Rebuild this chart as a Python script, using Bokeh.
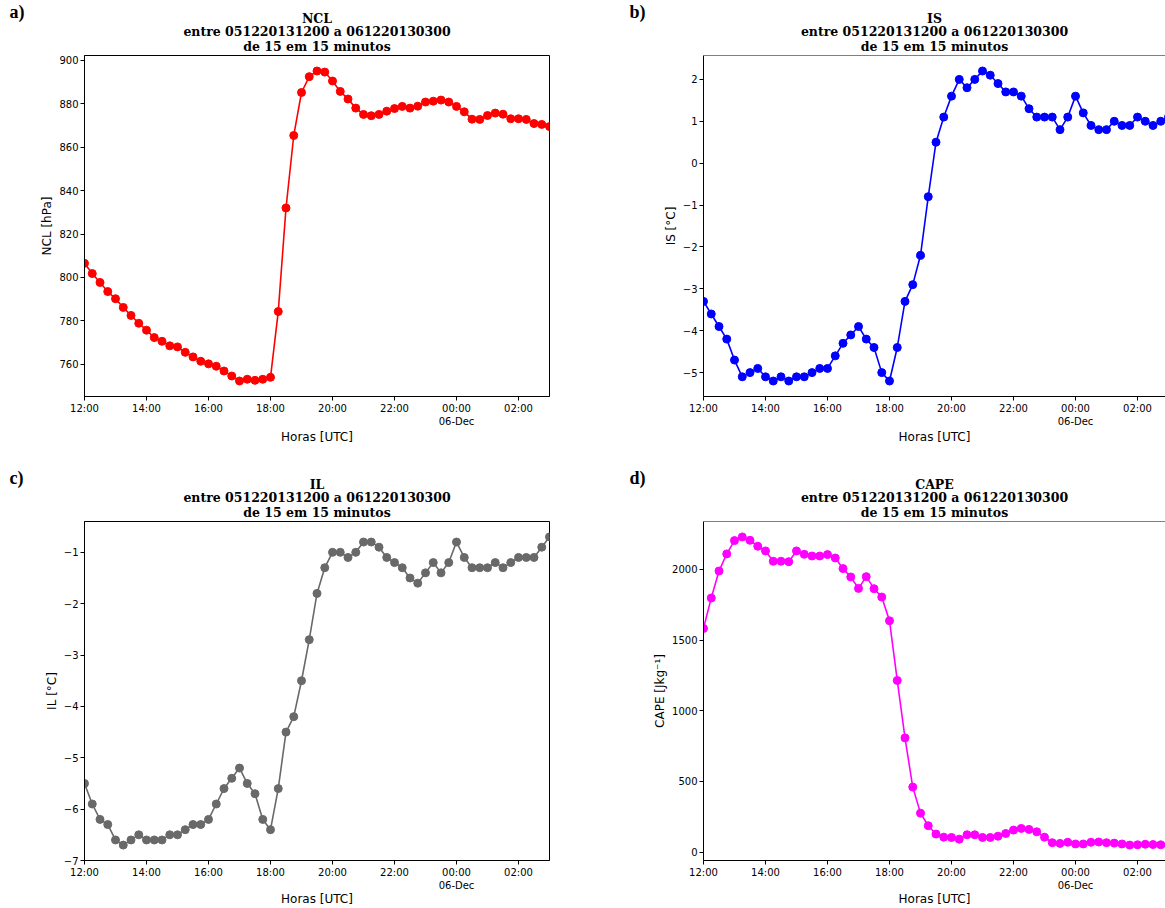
import pandas as pd
from bokeh.plotting import figure
from bokeh.layouts import column, row
from bokeh.models import (Range1d, SingleIntervalTicker, CustomJSTickFormatter,
                          Span, Title)
from bokeh.embed import file_html
from bokeh.resources import INLINE

# ---------------- data ----------------
times = pd.date_range("2013-12-05 12:00", "2013-12-06 03:00", freq="15min")

ncl = [806.5, 801.8, 797.7, 793.5, 790.2, 786.2, 782.5, 778.9, 775.7, 772.3,
       770.6, 768.5, 768.0, 765.5, 763.4, 761.4, 760.2, 759.1, 756.9, 754.6,
       752.3, 753.1, 752.6, 753.1, 754.0, 784.3, 832.0, 865.4, 885.2, 892.5,
       895.1, 894.6, 890.5, 885.7, 882.2, 878.0, 875.1, 874.5, 875.1, 876.6,
       877.8, 878.8, 878.0, 878.9, 880.8, 881.2, 881.7, 880.8, 878.8, 876.3,
       872.9, 872.8, 874.6, 875.7, 875.2, 873.1, 873.1, 872.8, 870.9, 870.5,
       869.5]

is_vals = [-3.3, -3.6, -3.9, -4.2, -4.7, -5.1, -5.0, -4.9, -5.1, -5.2,
           -5.1, -5.2, -5.1, -5.1, -5.0, -4.9, -4.9, -4.6, -4.3, -4.1,
           -3.9, -4.2, -4.4, -5.0, -5.2, -4.4, -3.3, -2.9, -2.2, -0.8,
           0.5, 1.1, 1.6, 2.0, 1.8, 2.0, 2.2, 2.1, 1.9, 1.7,
           1.7, 1.6, 1.3, 1.1, 1.1, 1.1, 0.8, 1.1, 1.6, 1.2,
           0.9, 0.8, 0.8, 1.0, 0.9, 0.9, 1.1, 1.0, 0.9, 1.0,
           1.1]

il_vals = [-5.5, -5.9, -6.2, -6.3, -6.6, -6.7, -6.6, -6.5, -6.6, -6.6,
           -6.6, -6.5, -6.5, -6.4, -6.3, -6.3, -6.2, -5.9, -5.6, -5.4,
           -5.2, -5.5, -5.7, -6.2, -6.4, -5.6, -4.5, -4.2, -3.5, -2.7,
           -1.8, -1.3, -1.0, -1.0, -1.1, -1.0, -0.8, -0.8, -0.9, -1.1,
           -1.2, -1.3, -1.5, -1.6, -1.4, -1.2, -1.4, -1.2, -0.8, -1.1,
           -1.3, -1.3, -1.3, -1.2, -1.3, -1.2, -1.1, -1.1, -1.1, -0.9,
           -0.7]

cape = [1582, 1797, 1988, 2109, 2203, 2229, 2205, 2163, 2130, 2057,
        2057, 2054, 2130, 2106, 2094, 2094, 2104, 2080, 2005, 1946,
        1865, 1948, 1863, 1804, 1636, 1214, 808, 460, 276, 187,
        128, 106, 104, 92, 123, 123, 104, 104, 113, 132,
        156, 168, 161, 144, 106, 67, 62, 70, 58, 58,
        70, 72, 67, 64, 58, 50, 52, 56, 54, 52,
        50]

letters = ["a)", "b)", "c)", "d)"]
names = ["NCL", "IS", "IL", "CAPE"]
ylabels = ["NCL [hPa]", "IS [°C]", "IL [°C]", "CAPE [Jkg⁻¹]"]
colors = ["#ff0000", "#0000ff", "#696969", "#ff00ff"]
ysteps = [20, 1, 1, 500]
subtitle1 = "entre 051220131200 a 061220130300"
subtitle2 = "de 15 em 15 minutos"
xlabel = "Horas [UTC]"

X_FMT = CustomJSTickFormatter(code="""
const d = new Date(tick);
const h = d.getUTCHours(), m = d.getUTCMinutes();
const pad = (n) => (n < 10 ? "0" : "") + n;
let s = pad(h) + ":" + pad(m);
if (h === 0 && m === 0) {
  const mon = ["Jan","Feb","Mar","Apr","May","Jun","Jul","Aug","Sep","Oct","Nov","Dec"][d.getUTCMonth()];
  s += "\\n" + pad(d.getUTCDate()) + "-" + mon;
}
return s;
""")

Y_FMT = CustomJSTickFormatter(code="""
const v = Math.round(tick * 1000) / 1000;
return (v < 0 ? "\\u2212" : "") + Math.abs(v).toString();
""")

FULL_W = 465  # frame width of a complete (un-clipped) panel


def make_title(text, standoff, align="center", offset=0,
               font="DejaVu Serif", size="12.5px"):
    kw = dict(text=text, align=align, offset=offset, text_font=font,
              text_font_style="bold", text_font_size=size, text_color="black")
    try:
        return Title(standoff=standoff, **kw)
    except ValueError:
        return Title(standoff=max(standoff, 0), **kw)


def make_panel(i, vals, W, H, left, right, top, bottom, clipped, xlab_standoff,
               letter_x):
    frame_w = W - left - right
    span = times[-1] - times[0]
    x_end = times[0] + span * (frame_w / FULL_W)
    lo, hi = min(vals), max(vals)
    pad = 0.05 * (hi - lo)
    y0, y1 = lo - pad, hi + pad

    p = figure(width=W, height=H, x_axis_type="datetime", title=None,
               x_range=Range1d(times[0], x_end), y_range=Range1d(y0, y1),
               output_backend="svg", toolbar_location=None,
               min_border_left=left, min_border_right=right,
               min_border_top=top, min_border_bottom=bottom)
    p.background_fill_color = "white"
    p.border_fill_color = "white"
    p.xgrid.grid_line_color = None
    p.ygrid.grid_line_color = None
    if clipped:
        p.outline_line_color = None
        p.add_layout(Span(location=y1, dimension="width",
                          line_color="black", line_width=1))
    else:
        p.outline_line_color = "black"
        p.outline_line_width = 1
        p.outline_line_alpha = 1

    # three-line title, closest line first; then the panel letter (top-left)
    p.add_layout(make_title(subtitle2, 3), "above")
    p.add_layout(make_title(subtitle1, -6), "above")
    p.add_layout(make_title(names[i], -3), "above")
    p.add_layout(make_title(letters[i], -23, align="left",
                            offset=letter_x - left,
                            font="Liberation Serif", size="18px"), "above")

    p.line(times, vals, line_width=1.6, color=colors[i])
    p.scatter(times, vals, size=8, color=colors[i])

    p.xaxis.ticker = SingleIntervalTicker(interval=2 * 3600 * 1000, num_minor_ticks=0)
    p.xaxis.formatter = X_FMT
    p.yaxis.ticker = SingleIntervalTicker(interval=ysteps[i], num_minor_ticks=0)
    p.yaxis.formatter = Y_FMT

    for ax in (p.xaxis, p.yaxis):
        ax.axis_line_color = "black"
        ax.axis_line_width = 1
        ax.major_tick_line_color = "black"
        ax.major_tick_out = 4
        ax.major_tick_in = 0
        ax.minor_tick_line_color = None
        ax.major_label_text_font = "DejaVu Sans"
        ax.major_label_text_font_size = "10px"
        ax.major_label_text_color = "black"
        ax.axis_label_text_font = "DejaVu Sans"
        ax.axis_label_text_font_size = "12px"
        ax.axis_label_text_font_style = "normal"
        ax.axis_label_text_color = "black"
    p.xaxis.major_label_standoff = 2
    p.xaxis.axis_label_standoff = xlab_standoff
    p.yaxis.major_label_standoff = 2
    p.yaxis.axis_label_standoff = 2
    p.xaxis.axis_label = xlabel
    p.yaxis.axis_label = ylabels[i]
    return p


pa = make_panel(0, ncl, 600, 460, 84, 51, 55, 64, False, 0, 9)
pb = make_panel(1, is_vals, 565, 460, 103, 0, 55, 64, True, 0, 29)
pc = make_panel(2, il_vals, 600, 448, 84, 51, 61, 47, False, -2, 9)
pd_ = make_panel(3, cape, 565, 448, 103, 0, 61, 47, True, -2, 29)

layout = column(row(pa, pb), row(pc, pd_))

open("out.html", "w").write(file_html(layout, INLINE))
